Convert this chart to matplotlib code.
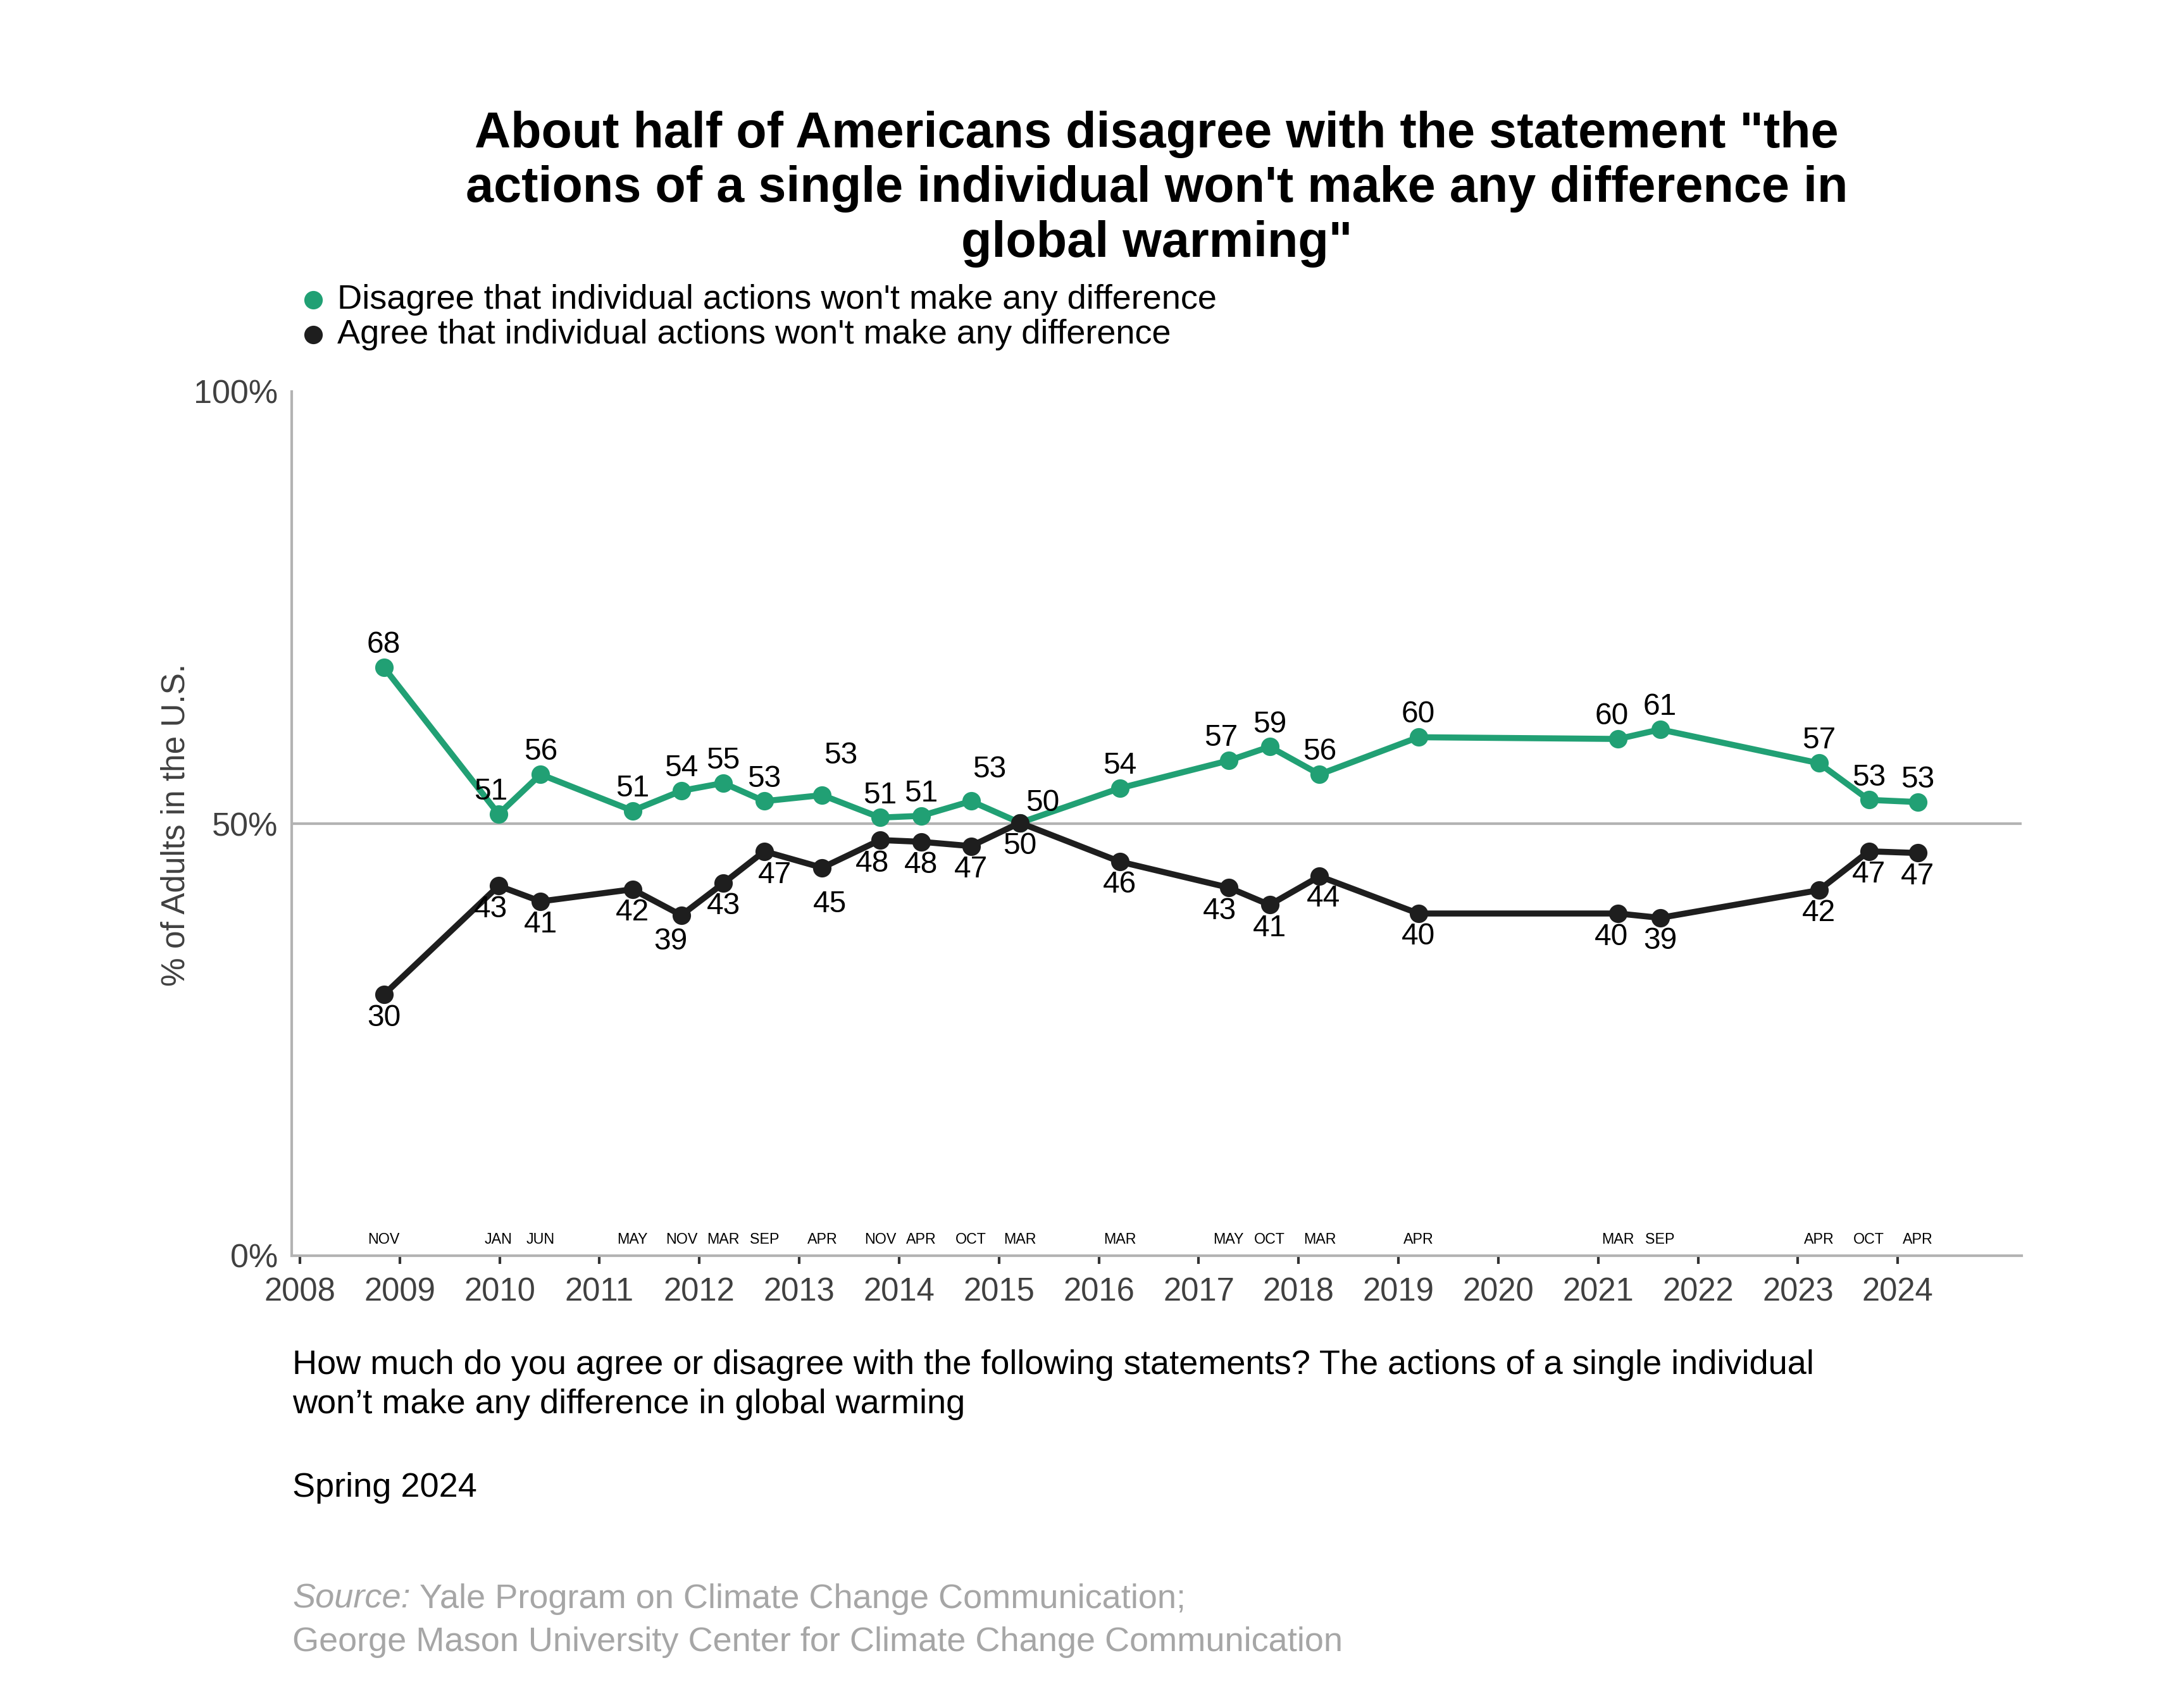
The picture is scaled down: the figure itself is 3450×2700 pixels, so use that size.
import matplotlib
matplotlib.use("Agg")
import matplotlib.pyplot as plt

plt.rcParams['font.family'] = ['Liberation Sans', 'DejaVu Sans']

# ---- data ----
dates = [2008.84, 2009.99, 2010.41, 2011.33, 2011.82, 2012.24, 2012.65, 2013.23,
         2013.81, 2014.22, 2014.72, 2015.21, 2016.21, 2017.30, 2017.71, 2018.21,
         2019.20, 2021.20, 2021.62, 2023.21, 2023.71, 2024.20]
months = ["NOV", "JAN", "JUN", "MAY", "NOV", "MAR", "SEP", "APR", "NOV", "APR", "OCT",
          "MAR", "MAR", "MAY", "OCT", "MAR", "APR", "MAR", "SEP", "APR", "OCT", "APR"]
disagree = [68.1, 51.1, 55.7, 51.5, 53.8, 54.7, 52.6, 53.3, 50.7, 50.9, 52.6, 50.1,
            54.1, 57.3, 58.9, 55.7, 60.0, 59.8, 60.9, 57.0, 52.75, 52.5]
agree = [30.2, 42.8, 41.0, 42.4, 39.4, 43.1, 46.8, 44.9, 48.1, 47.9, 47.4, 50.1,
         45.6, 42.6, 40.6, 43.9, 39.6, 39.6, 39.1, 42.3, 46.8, 46.6]
disagree_labels = [68, 51, 56, 51, 54, 55, 53, 53, 51, 51, 53, 50, 54, 57, 59, 56, 60, 60, 61, 57, 53, 53]
agree_labels = [30, 43, 41, 42, 39, 43, 47, 45, 48, 48, 47, 50, 46, 43, 41, 44, 40, 40, 39, 42, 47, 47]
years = list(range(2008, 2025))
series_names = ["Disagree that individual actions won't make any difference",
                "Agree that individual actions won't make any difference"]

GREEN = '#21a074'
BLACK = '#1e1e1e'
GRAY = '#b3b3b3'
TICKC = '#404040'

fig = plt.figure(figsize=(11.5, 9), dpi=300)
ax = fig.add_axes([461/3450, 1-1985/2700, (3195-461)/3450, (1985-619)/2700])
ax.set_xlim(2007.918, 2025.24)
ax.set_ylim(0, 100)

ax.axhline(50, color=GRAY, lw=1.0, zorder=1)
ax.plot(dates, disagree, color=GREEN, lw=2.3, marker='o', ms=6, zorder=3)
ax.plot(dates, agree, color=BLACK, lw=2.3, marker='o', ms=6, zorder=3)

# label offsets (points) for a few crowded labels
g_off = {1: (-3, 8.5), 7: (7, 15), 10: (7, 12), 11: (8.5, 7.5), 13: (-3, 8.5), 17: (-2.5, 8.5)}
b_off = {1: (-3, -9), 4: (-4, -10), 6: (4, -9), 7: (3, -14), 8: (-3, -9), 13: (-3.5, -9),
         15: (1.5, -8.5), 17: (-2.5, -9)}
for i, (x, y, lab) in enumerate(zip(dates, disagree, disagree_labels)):
    dx, dy = g_off.get(i, (0, 8.5))
    ax.annotate(str(lab), (x, y), xytext=(dx, dy), textcoords='offset points',
                ha='center', va='center', fontsize=11.5, color='black', zorder=4)
for i, (x, y, lab) in enumerate(zip(dates, agree, agree_labels)):
    dx, dy = b_off.get(i, (0, -8.8))
    ax.annotate(str(lab), (x, y), xytext=(dx, dy), textcoords='offset points',
                ha='center', va='center', fontsize=11.5, color='black', zorder=4)

for x, m in zip(dates, months):
    ax.text(x, 1.85, m, ha='center', va='center', fontsize=5.6, color='black')

ax.set_xticks(years)
ax.set_xticklabels([str(y) for y in years])
ax.set_yticks([0, 50, 100])
ax.set_yticklabels(['0%', '50%', '100%'])
ax.tick_params(axis='x', length=3, width=1, color='#333333', pad=5, labelsize=12.2, labelcolor=TICKC)
ax.tick_params(axis='y', length=0, pad=5.2, labelsize=12.5, labelcolor=TICKC)
for s in ['top', 'right']:
    ax.spines[s].set_visible(False)
for s in ['left', 'bottom']:
    ax.spines[s].set_color(GRAY)
    ax.spines[s].set_linewidth(1.0)

fig.text(278/3450, 1-1304/2700, '% of Adults in the U.S.', rotation=90, ha='center', va='center',
         fontsize=12.3, color=TICKC)

# title
fig.text(1828/3450, 1-299/2700,
         'About half of Americans disagree with the statement "the\n'
         'actions of a single individual won\'t make any difference in\n'
         'global warming"', ha='center', va='center', fontsize=19, fontweight='bold',
         linespacing=1.19, color='black')

# legend
for yy, col, name in [(474, GREEN, series_names[0]), (529, BLACK, series_names[1])]:
    fig.lines.append(plt.Line2D([495/3450], [1-yy/2700], marker='o', ms=6, color=col,
                                transform=fig.transFigure, figure=fig))
    fig.text(533/3450, 1-yy/2700, name, ha='left', va='center', fontsize=13, color='black')

# caption
fig.text(462/3450, 1-2189/2700,
         'How much do you agree or disagree with the following statements? The actions of a single individual\n'
         'won\u2019t make any difference in global warming', ha='left', va='center', fontsize=13,
         linespacing=1.32, color='black')
fig.text(462/3450, 1-2352/2700, 'Spring 2024', ha='left', va='center', fontsize=13, color='black')

SRC = '#a6a6a6'
t1 = fig.text(462/3450, 1-2528/2700, 'Source:', ha='left', va='center', fontsize=13,
              style='italic', color=SRC)
fig.canvas.draw()
bb = t1.get_window_extent()
fig.text(bb.x1/fig.bbox.width, 1-2528/2700, ' Yale Program on Climate Change Communication;',
         ha='left', va='center', fontsize=13, color=SRC)
fig.text(462/3450, 1-2596/2700, 'George Mason University Center for Climate Change Communication',
         ha='left', va='center', fontsize=13, color=SRC)

fig.savefig('out.png', dpi=300, facecolor='white')
